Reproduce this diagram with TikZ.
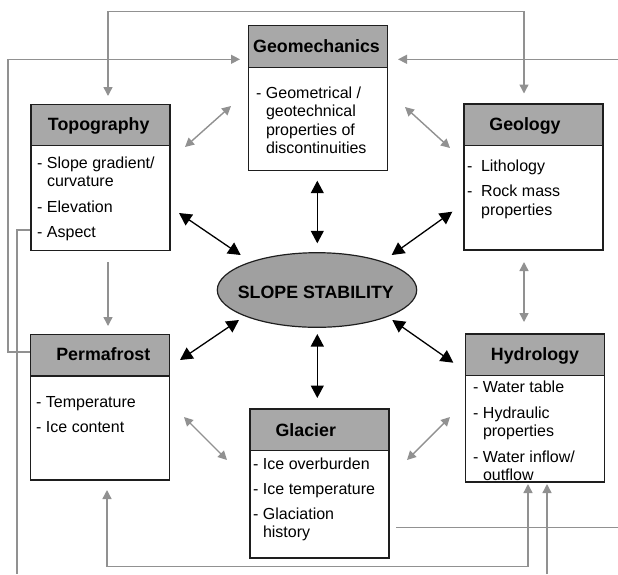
\documentclass[tikz,border=0pt]{standalone}
\usepackage{fontspec}
\setmainfont{Liberation Sans}
\usetikzlibrary{arrows.meta,calc,shapes.geometric}
\definecolor{headgray}{RGB}{168,168,168}
\definecolor{ellgray}{RGB}{160,160,160}
\definecolor{linkgray}{RGB}{145,145,145}
\definecolor{edge}{RGB}{30,30,30}
\newcommand{\cont}{\hspace*{9.8pt}}
\newcommand{\bodytext}[1]{\parbox[t]{132pt}{\raggedright #1}}

\begin{document}
\begin{tikzpicture}[x=1pt,y=-1pt,
  box/.style={draw=edge, line width=1.3pt, fill=white, rectangle,
              minimum width=139pt, inner sep=0pt},
  head/.style={draw=edge, line width=1.3pt, fill=headgray, rectangle,
               minimum width=139pt, minimum height=41.5pt, inner sep=0pt, anchor=north},
  title/.style={font=\fontsize{17.8}{20}\selectfont\bfseries, anchor=base, inner sep=0pt},
  body/.style={anchor=base west, inner sep=0pt, font=\fontsize{16}{18.5}\selectfont},
  main/.style={draw=black, line width=1.3pt,
               {Triangle[length=12.5pt,width=13pt]}-{Triangle[length=12.5pt,width=13pt]}},
  link/.style={draw=linkgray, line width=1.4pt},
  both/.style={{Triangle[length=9pt,width=9pt]}-{Triangle[length=9pt,width=9pt]}},
  into/.style={-{Triangle[length=9pt,width=9pt]}}
]
\useasboundingbox (0,0) rectangle (618,574);

% ---------- boxes ----------
\node[box, minimum height=145pt]   (geomech) at (318,98.2)   {};
\node[box, minimum height=146.4pt] (topo)    at (100.5,177.5) {};
\node[box, minimum height=146pt]   (geol)    at (533.5,177)  {};
\node[box, minimum height=145.7pt] (perma)   at (100,407.2)  {};
\node[box, minimum height=149pt]   (glac)    at (319.5,483.5) {};
\node[box, minimum height=148pt]   (hydro)   at (534.8,408)  {};

\node[head] (geomechH) at (geomech.north) {};
\node[head] (topoH)    at (topo.north)    {};
\node[head] (geolH)    at (geol.north)    {};
\node[head] (permaH)   at (perma.north)   {};
\node[head] (glacH)    at (glac.north)    {};
\node[head] (hydroH)   at (hydro.north)   {};

% ---------- titles ----------
\node[title] (geomechT) at (316.5,52)  {Geomechanics};
\node[title] (topoT)    at (98.7,130.5) {Topography};
\node[title] (geolT)    at (525,130.5) {Geology};
\node[title] (permaT)   at (103.3,360.5) {Permafrost};
\node[title] (glacT)    at (305.8,436) {Glacier};
\node[title] (hydroT)   at (535,360)   {Hydrology};

% ---------- item lists ----------
\node[body] (geomechB) at (256,98) {\bodytext{%
  - Geometrical /\\ \cont geotechnical\\ \cont properties of\\ \cont discontinuities}};
\node[body] (topoB) at (37,168) {\bodytext{%
  - Slope gradient/\\ \cont curvature\\[7pt] - Elevation\\[7pt] - Aspect}};
\node[body] (geolB) at (467,171) {\bodytext{%
  -\hspace{8.5pt}Lithology\\[7pt] -\hspace{8.5pt}Rock mass\\ \hspace*{14pt}properties}};
\node[body] (permaB) at (36,407.5) {\bodytext{%
  - Temperature\\[6pt] - Ice content}};
\node[body] (glacB) at (253,469) {\bodytext{%
  - Ice overburden\\[6.5pt] - Ice temperature\\[6.5pt] - Glaciation\\ \cont history}};
\node[body] (hydroB) at (473,392.7) {\bodytext{%
  - Water table\\[7pt] - Hydraulic\\ \cont properties\\[7pt] - Water inflow/\\ \cont outflow}};

% ---------- central node ----------
\node[ellipse, draw=edge, line width=1.2pt, fill=ellgray, minimum width=199.4pt,
      minimum height=74.6pt, inner sep=0pt] (slope) at (317,290) {};
\node[title] (slopeT) at (315.8,298) {SLOPE STABILITY};

% ---------- connector end points ----------
\coordinate (a1) at (317.3,180.7); \coordinate (b1) at (317.3,243.3);
\coordinate (a2) at (317.3,334);   \coordinate (b2) at (317.3,398);
\coordinate (a3) at (179,213);     \coordinate (b3) at (240.7,255);
\coordinate (a4) at (180,360);     \coordinate (b4) at (239,320);
\coordinate (a5) at (452.3,211.7); \coordinate (b5) at (391.7,255);
\coordinate (a6) at (453.3,362.7); \coordinate (b6) at (392.3,320);

\coordinate (g1a) at (185,147);  \coordinate (g1b) at (231,106);
\coordinate (g2a) at (405,107);  \coordinate (g2b) at (450,148);
\coordinate (g3a) at (108,262);  \coordinate (g3b) at (108,326);
\coordinate (g4a) at (524,262);  \coordinate (g4b) at (524,322);
\coordinate (g5a) at (184,417);  \coordinate (g5b) at (227,460);
\coordinate (g6a) at (407,460);  \coordinate (g6b) at (450,417);

% ---------- links to slope stability ----------
\draw[main] (a1) -- (b1);
\draw[main] (a2) -- (b2);
\draw[main] (a3) -- (b3);
\draw[main] (a4) -- (b4);
\draw[main] (a5) -- (b5);
\draw[main] (a6) -- (b6);

% ---------- links between factors ----------
\draw[link, both] (g1a) -- (g1b);
\draw[link, both] (g2a) -- (g2b);
\draw[link, into] (g3a) -- (g3b);
\draw[link, both] (g4a) -- (g4b);
\draw[link, both] (g5a) -- (g5b);
\draw[link, both] (g6a) -- (g6b);

% topography <-> geology over the top
\coordinate (t1) at (108,96);
\coordinate (t2) at (524,93.5);
\draw[link, both] (t1) -- (108,11.7) -- (524,11.7) -- (t2);

% permafrost -> geomechanics along the left edge
\coordinate (p1) at (perma.west |- 0,352);
\coordinate (p2) at (240,59.3);
\draw[link, into] (p1) -- (8,352) -- (8,59.3) -- (p2);

% input from the right into geomechanics
\coordinate (r1) at (618,59.3);
\coordinate (r2) at (398,59.3);
\draw[link, into] (r1) -- (r2);

% topography output leaving downward
\coordinate (s1) at (topo.west |- 0,230);
\coordinate (s2) at (17,574);
\draw[link] (s1) -- (17,230) -- (s2);

% permafrost <-> hydrology along the bottom
\coordinate (u1) at (107,490);
\coordinate (u2) at (528,484);
\draw[link, both] (u1) -- (107,566.7) -- (528,566.7) -- (u2);

% input from below into hydrology
\coordinate (v1) at (547,574);
\coordinate (v2) at (547,484);
\draw[link, into] (v1) -- (v2);

% glacier output to the right
\coordinate (w1) at (396,527.7);
\coordinate (w2) at (618,527.7);
\draw[link] (w1) -- (w2);
\end{tikzpicture}
\end{document}
